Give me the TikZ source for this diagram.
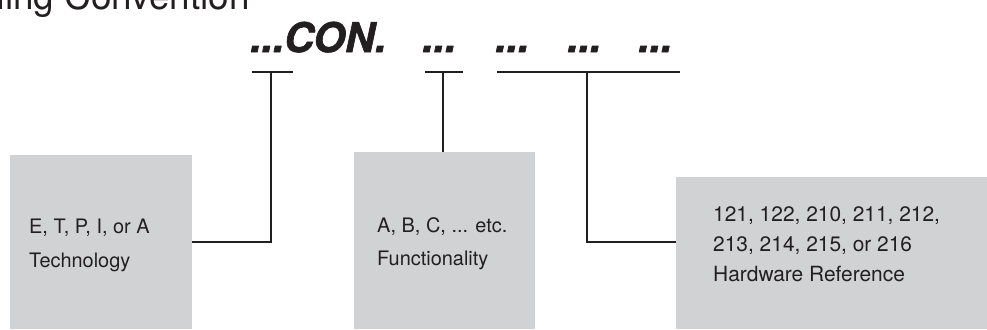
\documentclass[tikz,border=0pt]{standalone}
\usepackage{fontspec}
\setmainfont{TeX Gyre Heros}
\newfontfamily\headfont{TeX Gyre Heros}[BoldItalicFeatures={FakeBold=1.6}]
\usepackage{tikz}
\usetikzlibrary{positioning}
\definecolor{Ink}{HTML}{231F20}
\definecolor{Panel}{HTML}{D1D2D4}
\tikzset{
  panel/.style={fill=Panel,draw=none,inner sep=0pt,anchor=south west},
  note/.style={anchor=west,inner sep=0pt,align=left,text=Ink,font=\fontsize{20}{34}\selectfont},
  token/.style={anchor=base west,inner sep=0pt,text=Ink,font=\fontsize{41}{41}\headfont\bfseries\itshape},
  bar/.style={draw=Ink,line width=1.4bp},
  link/.style={draw=Ink,line width=1.9bp}
}
\begin{document}
\begin{tikzpicture}[x=1bp,y=1bp]
  \clip (0,0) rectangle (987,329);
  \node[anchor=base east,inner sep=0pt,text=Ink,font=\fontsize{37}{37}\selectfont] (title) at (250,320) {Naming Convention};

  \node[token] (con) at (250,277) {...CON.};
  \node[token] (tokA) at (422,277) {...};
  \node[token] (tokB) at (495,277) {...};
  \node[token] (tokC) at (567,277) {...};
  \node[token] (tokD) at (638,277) {...};

  \foreach \n/\l/\r/\m in {1/252/293/271,2/425/463/443,3/497/680/587}{
    \coordinate (bl\n) at (\l,257);
    \coordinate (br\n) at (\r,257);
    \coordinate (t\n) at (\m,257);
    \draw[bar] (bl\n) -- (br\n);
  }

  % grey panels and their texts
  \node[panel,minimum width=182bp,minimum height=174bp] (tech) at (10,0) {};
  \node[panel,minimum width=181bp,minimum height=177bp] (func) at (354,0) {};
  \node[panel,minimum width=311bp,minimum height=152bp] (hw) at (676,0) {};

  \node[note] (techText) at (29,84) {E, T, P, I, or A\\Technology};
  \node[note,font=\fontsize{20}{33}\selectfont] (funcText) at (377,85) {A, B, C, ... etc.\\Functionality};
  \node[note,font=\fontsize{21}{30}\selectfont] (hwText) at (713,85) {121, 122, 210, 211, 212,\\213, 214, 215, or 216\\Hardware Reference};

  \draw[link] (t1) |- (tech.east);
  \draw[link] (t2) -- (t2 |- func.north);
  \draw[link] (t3) |- (hw.west |- tech.east);
\end{tikzpicture}
\end{document}
